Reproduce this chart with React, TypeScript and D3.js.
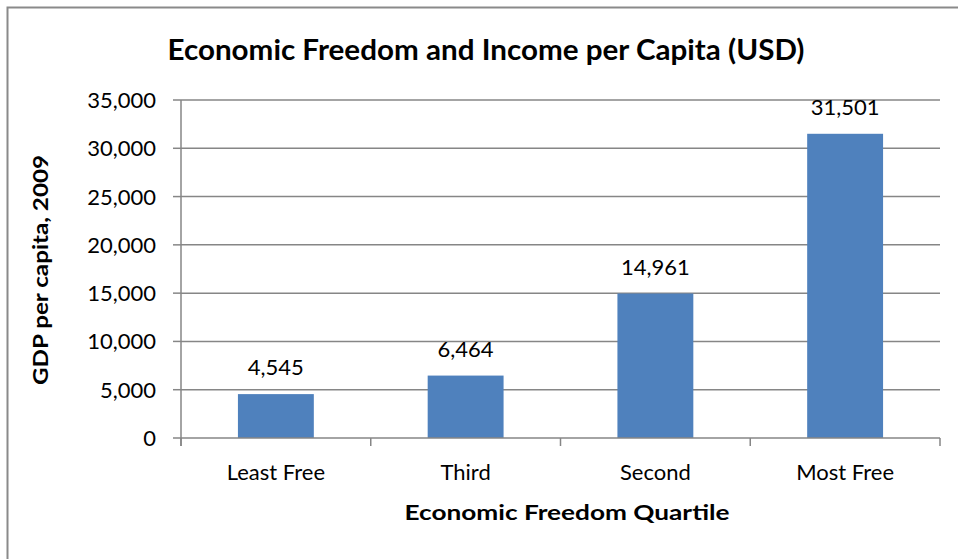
import React from "react";
import * as d3 from "d3";

const categories = ["Least Free", "Third", "Second", "Most Free"];
const values = [4545, 6464, 14961, 31501];
const yTicks = [0, 5000, 10000, 15000, 20000, 25000, 30000, 35000];

const W = 958;
const H = 559;
const FONT = "Lato, 'Open Sans', sans-serif";

export default function App() {
  const left = 181;
  const right = 940;
  const top = 100;
  const bottom = 438;
  const x = d3.scaleBand<string>().domain(categories).range([left, right]).padding(0);
  const y = d3.scaleLinear().domain([0, 35000]).range([bottom, top]);
  const fmt = d3.format(",");
  const bw = x.bandwidth() * 0.4;
  const grid = "#868686";

  return (
    <svg width={W} height={H} style={{ position: "absolute", left: 0, top: 0, background: "#fff" }}>
      <rect x={0} y={0} width={W} height={H} fill="#fff" />
      <path d={`M7.5,${H + 5}V7.5H${W + 5}`} fill="none" stroke="#8a8a8a" strokeWidth={2} />
      <text x={486} y={60} textAnchor="middle" fontFamily={FONT} fontWeight="bold" fontSize={28}
        textLength={637} lengthAdjust="spacingAndGlyphs" fill="#000">
        Economic Freedom and Income per Capita (USD)
      </text>
      {yTicks.map((t) => (
        <g key={t}>
          {t > 0 && <line x1={left} x2={right} y1={y(t)} y2={y(t)} stroke={grid} strokeWidth={1.5} />}
          <line x1={173} x2={left} y1={y(t)} y2={y(t)} stroke={grid} strokeWidth={1.5} />
          <text x={156} y={y(t) + 8} textAnchor="end" fontFamily={FONT} fontSize={22} fill="#000">
            {fmt(t)}
          </text>
        </g>
      ))}
      {categories.map((c, i) => (
        <rect key={c} x={x(c)! + (x.bandwidth() - bw) / 2} y={y(values[i])} width={bw}
          height={bottom - y(values[i])} fill="#4f81bd" />
      ))}
      <line x1={left} x2={right} y1={bottom} y2={bottom} stroke={grid} strokeWidth={1.5} />
      <line x1={left} x2={left} y1={top} y2={446} stroke={grid} strokeWidth={1.5} />
      {[...categories.map((c) => x(c)!), right].map((p, i) => (
        <line key={i} x1={p} x2={p} y1={bottom} y2={446} stroke={grid} strokeWidth={1.5} />
      ))}
      {categories.map((c, i) => (
        <g key={c}>
          <text x={x(c)! + x.bandwidth() / 2} y={480} textAnchor="middle" fontFamily={FONT} fontSize={22} fill="#000">
            {c}
          </text>
          <text x={x(c)! + x.bandwidth() / 2} y={y(values[i]) - 19} textAnchor="middle" fontFamily={FONT} fontSize={22} fill="#000">
            {fmt(values[i])}
          </text>
        </g>
      ))}
      <text x={567} y={520} textAnchor="middle" fontFamily={FONT} fontWeight="bold" fontSize={21}
        textLength={325} lengthAdjust="spacingAndGlyphs" fill="#000">
        Economic Freedom Quartile
      </text>
      <text transform="translate(48,270) rotate(-90)" textAnchor="middle" fontFamily={FONT} fontWeight="bold"
        fontSize={21} textLength={230} lengthAdjust="spacingAndGlyphs" fill="#000">
        GDP per capita, 2009
      </text>
    </svg>
  );
}
